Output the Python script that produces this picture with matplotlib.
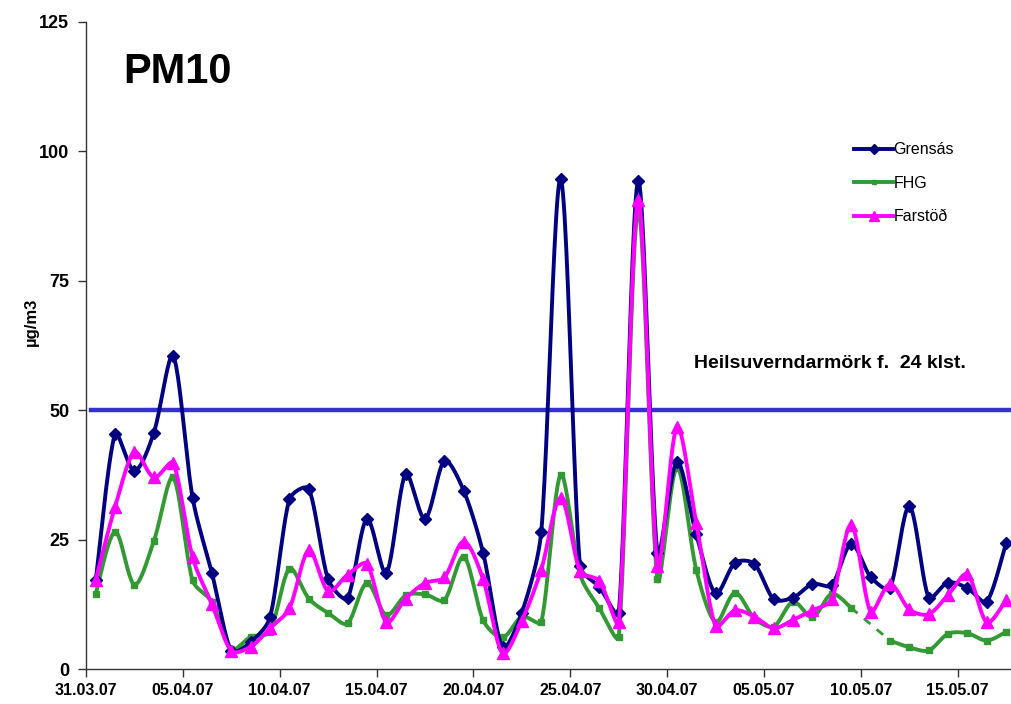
import numpy as np
from matplotlib import pyplot as plt
from matplotlib.lines import Line2D
#
plt.rcParams['font.family'] = ['Liberation Sans', 'DejaVu Sans']
#
# daily means, 31.03.07 - 17.05.07
tick_labels = ['31.03.07', '05.04.07', '10.04.07', '15.04.07', '20.04.07',
               '25.04.07', '30.04.07', '05.05.07', '10.05.07', '15.05.07']
grensas = [17.1, 45.4, 38.3, 45.6, 60.4, 33.1, 18.5, 3.5, 5.2, 10.0,
           32.8, 34.8, 17.3, 13.7, 29.0, 18.5, 37.7, 29.0, 40.2, 34.4,
           22.4, 4.2, 10.9, 26.5, 94.6, 19.9, 15.8, 10.8, 94.2, 22.4,
           40.0, 26.0, 14.6, 20.5, 20.3, 13.5, 13.8, 16.4, 16.2, 24.1,
           17.8, 15.6, 31.4, 13.8, 16.7, 15.6, 13.0, 24.4]
fhg = [14.5, 26.5, 16.3, 24.7, 37.0, 17.1, 12.9, 3.8, 6.2, 7.2,
       19.4, 13.6, 10.8, 8.8, 16.6, 10.4, 14.2, 14.4, 13.3, 21.7,
       9.4, 6.1, 10.1, 9.1, 37.5, 18.3, 11.7, 6.2, 88.5, 17.3,
       38.9, 19.2, 9.0, 14.7, 9.8, 8.2, 13.0, 10.0, 14.5, 11.8,
       np.nan, 5.5, 4.2, 3.6, 6.8, 6.9, 5.5, 7.2]
farstod = [17.2, 31.3, 41.9, 37.0, 39.8, 21.6, 12.5, 3.5, 4.3, 7.9,
           11.7, 22.9, 15.0, 18.2, 20.3, 9.0, 13.6, 16.6, 17.7, 24.6,
           17.3, 3.0, 9.3, 19.2, 33.0, 18.9, 17.0, 9.1, 90.5, 19.9,
           46.7, 28.2, 8.3, 11.3, 10.1, 7.9, 9.5, 11.3, 13.5, 27.8,
           11.1, 16.4, 11.5, 10.6, 14.3, 18.3, 9.0, 13.3]
limit = 50
#
NAVY = '#000080'
GREEN = '#339933'
PINK = '#FF00FF'
SX, SY = 19.4, 5.18   # px per day / per ug, for the smoothing distances
#
def smooth(x, y, n=24):
    # excel-like smoothed line: bezier, tangent 1/6, shortened next to long jumps
    x = np.asarray(x, float)
    y = np.asarray(y, float)
    if len(x) < 2:
        return x, y
    px = np.concatenate([[x[0]], x, [x[-1]]])
    py = np.concatenate([[y[0]], y, [y[-1]]])
    def d(i, j):
        return np.hypot((px[i]-px[j])*SX, (py[i]-py[j])*SY)
    t = np.linspace(0, 1, n, endpoint=False)
    ox, oy = [], []
    for i in range(len(x) - 1):
        k = i + 1
        d01, d12, d23 = d(k-1, k), d(k, k+1), d(k+1, k+2)
        f1 = min(1/6, d12 / (d01 + d12) / 3) if d01 + d12 > 0 else 0
        f2 = min(1/6, d12 / (d12 + d23) / 3) if d12 + d23 > 0 else 0
        cx1 = px[k] + (px[k+1] - px[k-1]) * f1
        cy1 = py[k] + (py[k+1] - py[k-1]) * f1
        cx2 = px[k+1] - (px[k+2] - px[k]) * f2
        cy2 = py[k+1] - (py[k+2] - py[k]) * f2
        a, b, c, e = (1-t)**3, 3*(1-t)**2*t, 3*(1-t)*t**2, t**3
        ox.append(a*px[k] + b*cx1 + c*cx2 + e*px[k+1])
        oy.append(a*py[k] + b*cy1 + c*cy2 + e*py[k+1])
    ox.append([x[-1]])
    oy.append([y[-1]])
    return np.concatenate(ox), np.concatenate(oy)
#
def runs(vals):
    ok = ~np.isnan(vals)
    out, cur = [], []
    for i, v in enumerate(ok):
        if v:
            cur.append(i)
        elif cur:
            out.append(cur)
            cur = []
    if cur:
        out.append(cur)
    return out
#
def draw_series(ax, vals, color, marker, ms, z):
    vals = np.asarray(vals, float)
    xs = np.arange(len(vals)) + 0.5
    segs = runs(vals)
    for s in segs:
        sx, sy = smooth(xs[s], vals[s])
        ax.plot(sx, sy, color=color, lw=2.8, zorder=z, solid_capstyle='round',
                solid_joinstyle='round')
    # gap -> dashed connector
    for a, b in zip(segs[:-1], segs[1:]):
        ax.plot([xs[a[-1]], xs[b[0]]], [vals[a[-1]], vals[b[0]]], color=color,
                lw=2.0, ls=(0, (3, 3)), zorder=z)
    ax.plot(xs, vals, ls='none', marker=marker, ms=ms, color=color,
            mec=color, zorder=z + 0.5)
#
fig = plt.figure(figsize=(10.12, 7.04), dpi=100)
ax = fig.add_axes([0.085, 0.0497, 0.915, 0.9195])
#
ax.plot([0.25, 48], [limit, limit], color='#3333CC', lw=3.2, zorder=1)
draw_series(ax, fhg, GREEN, 's', 4, 2)
draw_series(ax, grensas, NAVY, 'D', 6, 3)
draw_series(ax, farstod, PINK, '^', 8, 4)
#
ax.set_xlim(0, 47.8)
ax.set_ylim(0, 125)
ax.set_xticks(np.arange(len(tick_labels)) * 5)
ax.set_xticklabels(tick_labels, fontsize=11.5, fontweight='bold')
ax.set_yticks([0, 25, 50, 75, 100, 125])
ax.set_yticklabels(['0', '25', '50', '75', '100', '125'], fontsize=13, fontweight='bold')
ax.tick_params(axis='both', direction='out', length=6, width=1, color='#333333')
ax.tick_params(axis='y', pad=6)
ax.tick_params(axis='x', pad=4)
for sp in ['top', 'right']:
    ax.spines[sp].set_visible(False)
for sp in ['left', 'bottom']:
    ax.spines[sp].set_color('#333333')
    ax.spines[sp].set_linewidth(1)
ax.set_ylabel('µg/m3', fontsize=12, fontweight='bold')
ax.yaxis.set_label_coords(-0.051, 0.536)
#
fig.text(123 / 1012, 1 - 83 / 704, 'PM10', fontsize=30, fontweight='bold',
         ha='left', va='baseline')
fig.text(694 / 1012, 1 - 368 / 704, 'Heilsuverndarmörk f.  24 klst.',
         fontsize=14, fontweight='bold', ha='left', va='baseline')
#
handles = [Line2D([], [], color=NAVY, lw=2.8, marker='D', ms=5),
           Line2D([], [], color=GREEN, lw=2.8, marker='s', ms=3),
           Line2D([], [], color=PINK, lw=2.8, marker='^', ms=7)]
ax.legend(handles, ['Grensás', 'FHG', 'Farstöð'], loc='upper left',
          bbox_to_anchor=(840 / 1012, 1 - 128 / 704), bbox_transform=fig.transFigure,
          frameon=False, fontsize=11.5, handlelength=2.4, handletextpad=0.05,
          labelspacing=1.15, numpoints=1)
#
fig.savefig('out.png', dpi=100)
